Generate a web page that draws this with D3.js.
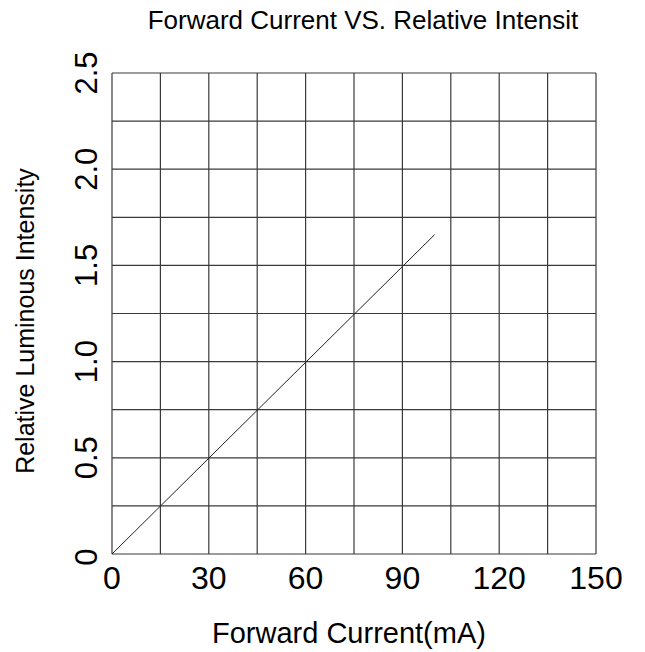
<!DOCTYPE html>
<html>
    <head>
        <meta http-equiv="Content-Type" content="text/html; charset=UTF-8">
        <script src="https://d3js.org/d3.v7.min.js" charset="utf-8"></script>
        <style>
            body { margin: 0; background: #fff; }
            text { font-family: "Liberation Sans", Arial, sans-serif; fill: #000; }
        </style>
    </head>
    <body>
        <div id="svgcontainer"></div>
        <script>
            // Data
            var currentMA = [0, 100];
            var relIntensity = [0, 1.66];
            var xTicks = [0, 30, 60, 90, 120, 150];
            var yTicks = [0, 0.5, 1.0, 1.5, 2.0, 2.5];
            var yTickLabels = ["0", "0.5", "1.0", "1.5", "2.0", "2.5"];

            // Declarations
            var w = 645, h = 652;
            var plotLeft = 112, plotRight = 596, plotTop = 73, plotBottom = 554;

            var x = d3.scaleLinear().domain([0, 150]).range([plotLeft, plotRight]);
            var y = d3.scaleLinear().domain([0, 2.5]).range([plotBottom, plotTop]);

            var svg = d3.select("#svgcontainer")
                .append("svg")
                .attr("width", w)
                .attr("height", h);

            // grid lines - 10 x 10 cells
            var gridX = d3.range(0, 151, 15);
            var gridY = d3.range(0, 2.51, 0.25);

            svg.selectAll(".vgrid")
                .data(gridX)
                .enter()
                .append("line")
                .attr("x1", function (d) { return x(d); })
                .attr("x2", function (d) { return x(d); })
                .attr("y1", plotTop)
                .attr("y2", plotBottom)
                .attr("stroke", "#3a3a3a")
                .attr("stroke-width", 1.2);

            svg.selectAll(".hgrid")
                .data(gridY)
                .enter()
                .append("line")
                .attr("x1", plotLeft)
                .attr("x2", plotRight)
                .attr("y1", function (d) { return y(d); })
                .attr("y2", function (d) { return y(d); })
                .attr("stroke", "#3a3a3a")
                .attr("stroke-width", 1.2);

            // the data line
            var line = d3.line()
                .x(function (d, i) { return x(currentMA[i]); })
                .y(function (d) { return y(d); });

            svg.append("path")
                .datum(relIntensity)
                .attr("d", line)
                .attr("fill", "none")
                .attr("stroke", "#222")
                .attr("stroke-width", 1);

            // x tick labels
            svg.selectAll(".xlabel")
                .data(xTicks)
                .enter()
                .append("text")
                .attr("x", function (d) { return x(d); })
                .attr("y", 589)
                .attr("text-anchor", "middle")
                .style("font-size", "32px")
                .text(function (d) { return d; });

            // y tick labels, rotated
            svg.selectAll(".ylabel")
                .data(yTicks)
                .enter()
                .append("text")
                .attr("transform", function (d, i) {
                    // the bottom "0" sits a little lower in the reference
                    var off = (i === 0) ? 3 : 0;
                    return "translate(97," + (y(d) + off) + ") rotate(-90)";
                })
                .attr("text-anchor", "middle")
                .style("font-size", "31px")
                .text(function (d, i) { return yTickLabels[i]; });

            // titles
            svg.append("text")
                .attr("x", 363)
                .attr("y", 29)
                .attr("text-anchor", "middle")
                .style("font-size", "26px")
                .text("Forward Current VS. Relative Intensit");

            svg.append("text")
                .attr("x", 212)
                .attr("y", 643)
                .attr("text-anchor", "start")
                .style("font-size", "29px")
                .text("Forward Current(mA)");

            svg.append("text")
                .attr("transform", "translate(34,321) rotate(-90)")
                .attr("text-anchor", "middle")
                .style("font-size", "25px")
                .text("Relative Luminous Intensity");
        </script>
    </body>
</html>
